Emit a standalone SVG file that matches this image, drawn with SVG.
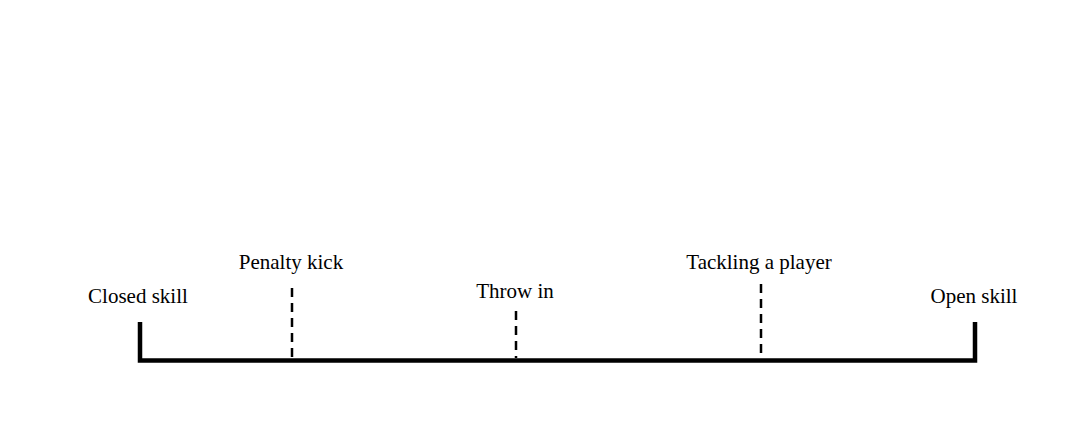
<svg xmlns="http://www.w3.org/2000/svg" width="1088" height="431" viewBox="0 0 1088 431">
<style>
.lbl{font-family:"Liberation Serif","Times New Roman",serif;font-size:21px;fill:#000;text-anchor:middle}
.axis{stroke:#000;stroke-width:4.5;fill:none}
.tick{stroke:#000;stroke-width:2.5;stroke-dasharray:9 6;fill:none}
</style>
<rect width="1088" height="431" fill="#fff"/>
<g id="connectors">
<path class="axis" d="M140 322 V360.5 H975 V322"/>
<line id="tick-penalty" class="tick" x1="292" y1="288" x2="292" y2="358"/>
<line id="tick-throw" class="tick" x1="516" y1="311" x2="516" y2="358"/>
<line id="tick-tackle" class="tick" x1="761" y1="284" x2="761" y2="358"/>
</g>
<g id="closed"><text class="lbl" x="138" y="303">Closed skill</text></g>
<g id="penalty"><text class="lbl" x="291" y="269">Penalty kick</text></g>
<g id="throw"><text class="lbl" x="515" y="298">Throw in</text></g>
<g id="tackle"><text class="lbl" x="759" y="269">Tackling a player</text></g>
<g id="open"><text class="lbl" x="974" y="303">Open skill</text></g>
</svg>
